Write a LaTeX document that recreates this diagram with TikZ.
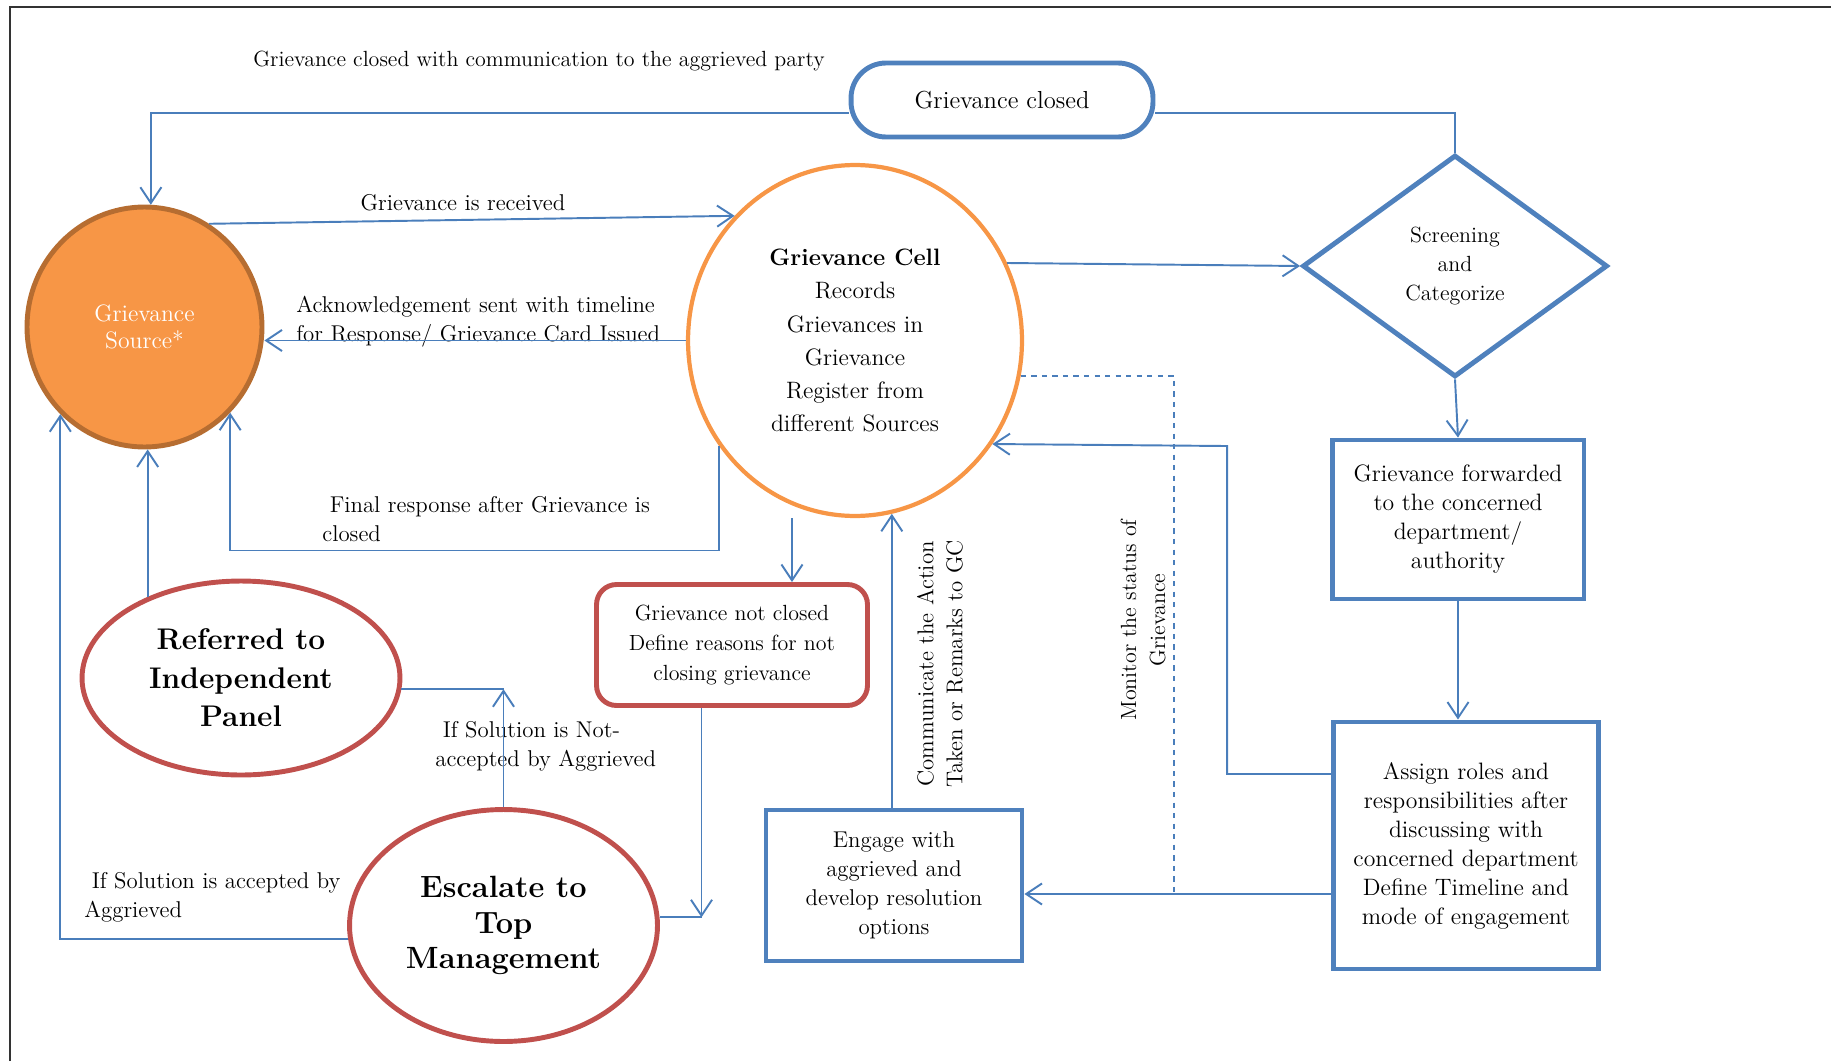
\documentclass[tikz,border=0pt]{standalone}
\usetikzlibrary{shapes.geometric,arrows.meta}

\definecolor{lineblue}{RGB}{74,126,187}
\definecolor{boxblue}{RGB}{79,129,189}
\definecolor{cellorange}{RGB}{247,150,70}
\definecolor{srcbrown}{RGB}{182,109,49}
\definecolor{panelred}{RGB}{192,80,77}

\begin{document}
\begin{tikzpicture}
  [
    x=0.02cm, y=-0.02cm,
    lbl/.style={
      font=\fontsize{13}{16.5}\selectfont,
      inner sep=0pt
    },
    flow/.style={
      draw=lineblue,
      line width=1.1pt,
      -{Straight Barb[length=9pt,width=12pt]}
    },
    link/.style={
      draw=lineblue,
      line width=1.1pt
    },
    blob/.style={
      ellipse,
      line width=2.8pt,
      inner sep=0pt,
      align=center
    },
    box/.style={
      rectangle,
      draw=boxblue,
      line width=2.8pt,
      inner sep=0pt,
      align=center,
      font=\fontsize{13.5}{16.5}\selectfont
    },
    panel/.style={
      blob,
      draw=panelred,
      font=\bfseries\fontsize{17}{21}\selectfont
    }
  ]

  \useasboundingbox (0,0) rectangle (1831,1061);
  \draw [line width=0.8pt,black!80] (10,1061) -- (10,7) -- (1831,7);

  % nodes
  \node [blob, draw=srcbrown, fill=cellorange, text=white,
         minimum width=4.7cm, minimum height=4.8cm,
         font=\fontsize{13.5}{15.4}\selectfont]
        (src) at (144.5,327) {Grievance\\Source*};
  \node [blob, draw=cellorange, line width=2.4pt,
         minimum width=6.68cm, minimum height=7.02cm,
         font=\fontsize{13.5}{18.8}\selectfont]
        (cell) at (855,340.5) {\textbf{Grievance Cell}\\Records\\Grievances in\\Grievance\\Register from\\different Sources};
  \node [box, rounded corners=0.7cm, minimum width=6.04cm, minimum height=1.48cm,
         font=\fontsize{14}{17}\selectfont]
        (closed) at (1002,100) {Grievance closed};
  \node [box, diamond, minimum width=6.1cm, minimum height=4.44cm,
         font=\fontsize{12.5}{16.5}\selectfont]
        (scr) at (1455,266) {Screening\\and\\Categorize};
  \node [box, minimum width=5.04cm, minimum height=3.18cm]
        (fwd) at (1458,519.5) {Grievance forwarded\\to the concerned\\department/\\authority};
  \node [box, minimum width=5.3cm, minimum height=4.94cm]
        (assign) at (1466,845.5) {Assign roles and\\responsibilities after\\discussing with\\concerned department\\Define Timeline and\\mode of engagement};
  \node [box, minimum width=5.12cm, minimum height=3.02cm,
         font=\fontsize{13}{16.5}\selectfont]
        (engage) at (894,885.5) {Engage with\\aggrieved and\\develop resolution\\options};
  \node [box, draw=panelred, rounded corners=0.4cm,
         minimum width=5.42cm, minimum height=2.42cm,
         font=\fontsize{12.5}{16.8}\selectfont]
        (notcl) at (732,645) {Grievance not closed\\Define reasons for not\\closing grievance};
  \node [panel, minimum width=6.36cm, minimum height=3.88cm,
         font=\bfseries\fontsize{17}{21.9}\selectfont]
        (ref) at (241,678) {Referred to\\Independent\\Panel};
  \node [panel, minimum width=6.16cm, minimum height=4.64cm,
         font=\bfseries\fontsize{17.5}{20.2}\selectfont]
        (esc) at (503.5,925.5) {Escalate to\\Top\\Management};

  % labels
  \node [lbl, font=\fontsize{12.5}{15}\selectfont] (l1) at (539,61)
        {Grievance closed with communication to the aggrieved party};
  \node [lbl] (l2) at (463,203) {Grievance is received};
  \node [lbl, align=left, anchor=west] (l3) at (296,321.5)
        {Acknowledgement sent with timeline\\for Response/ Grievance Card Issued};
  \node [lbl, align=left, anchor=west] (l4) at (322,519)
        {\ Final response after Grievance is\\closed};
  \node [lbl, align=left, anchor=west] (l5) at (435,746)
        {\ If Solution is Not-\\accepted by Aggrieved};
  \node [lbl, align=left, anchor=west] (l6) at (84,897)
        {\ If Solution is accepted by\\Aggrieved};
  \node [lbl, align=center, rotate=90] (l7) at (940,664)
        {Communicate the Action\\Taken or Remarks to GC};
  \node [lbl, align=center, rotate=90, font=\fontsize{12.5}{16.5}\selectfont] (l8) at (1143,620)
        {Monitor the status of\\Grievance};

  % connectors
  \draw [flow] ([yshift=-0.26cm]closed.west) -| (src.87);
  \draw [link] ([yshift=-0.26cm]closed.east) -| (scr.north);
  \draw [flow] (src.58) -- (cell.134);
  \draw [flow] (cell.west) -- (cell.west -| src.east);
  \draw [flow] (cell.218) -- ++(0,104) -| (src.-45);
  \draw [flow] (cell.27) -- (scr.west);
  \draw [flow] (scr.south) -- (fwd.north);
  \draw [flow] (fwd.south) -- (fwd.south |- assign.north);
  \draw [flow] ([yshift=1.43cm]assign.west) -- ++(-104,0) -- ++(0,-328) -- (cell.-37);
  \draw [flow] ([yshift=-0.97cm]assign.west) -- ([yshift=-0.97cm]assign.west -| engage.east);
  \draw [link, dashed] (cell.-12) -- ++(153,0) -- ++(0,519);
  \draw [flow] (engage.north -| cell.-78) -- (cell.-78);
  \coordinate (nctop) at ([xshift=1.2cm]notcl.north);
  \draw [flow] (nctop |- cell.south) -- (nctop);
  \coordinate (ncbend) at ([xshift=-0.61cm]notcl.south |- esc.3);
  \draw [flow] ([xshift=-0.61cm]notcl.south) -- (ncbend);
  \draw [link] (esc.3) -- (ncbend);
  \coordinate (escbend) at (esc.north |- ref.-4);
  \draw [flow] (esc.north) -- (escbend);
  \draw [link] (ref.-4) -- (escbend);
  \draw [flow] (ref.139) -- (ref.139 |- src.south);
  \draw [flow] (esc.185) -| (src.226);

\end{tikzpicture}
\end{document}
